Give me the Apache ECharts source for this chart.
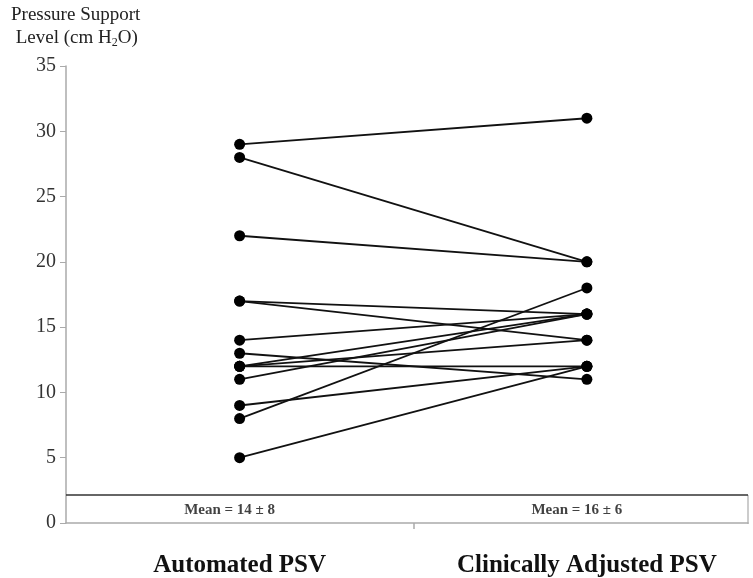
<!DOCTYPE html>
<html><head><meta charset="utf-8">
<script src="https://cdn.jsdelivr.net/npm/echarts@6/dist/echarts.min.js"></script>
<style>html,body{margin:0;padding:0;background:#fff}#c{width:753px;height:578px}</style>
</head><body><div id="c"></div>
<script>
var categories = ['Automated PSV', 'Clinically Adjusted PSV'];
var automated = [29, 28, 22, 17, 17, 14, 13, 12, 12, 12, 11, 9, 8, 5];
var clinical  = [31, 20, 20, 16, 14, 16, 11, 16, 14, 12, 16, 12, 18, 12];
var meanLabels = ['Mean = 14 ± 8', 'Mean = 16 ± 6'];
var yTicks = [0, 5, 10, 15, 20, 25, 30, 35];
var serif = '"Liberation Serif", "Times New Roman", serif';

var series = automated.map(function (a, i) {
  return {
    type: 'line', data: [[0, a], [1, clinical[i]]], symbol: 'circle', symbolSize: 11,
    itemStyle: { color: '#000' }, lineStyle: { color: '#111', width: 1.8 },
    animation: false, silent: true
  };
});
series.push({
  type: 'scatter', symbolSize: 0, data: [[0, 1], [1, 1]], animation: false, silent: true,
  label: {
    show: true, position: 'inside', offset: [-10, 0],
    formatter: function (p) { return meanLabels[p.dataIndex]; },
    fontFamily: serif, fontWeight: 'bold', fontSize: 15, color: '#111'
  },
  markLine: {
    symbol: 'none', silent: true, animation: false, label: { show: false },
    lineStyle: { color: '#333', width: 1.5, type: 'solid' },
    data: [{ yAxis: 2.2 }]
  }
});

var chart = echarts.init(document.getElementById('c'), null, { renderer: 'canvas' });
chart.setOption({
  backgroundColor: '#fff',
  grid: { left: 66, right: 5, top: 66, bottom: 54 },
  xAxis: {
    type: 'value', min: -0.5, max: 1.464,
    splitLine: { show: false },
    axisLine: { onZero: false, lineStyle: { color: '#aaa', width: 1.5 } },
    axisTick: { show: true, length: 6, customValues: [0.5], lineStyle: { color: '#aaa', width: 1.5 } },
    axisLabel: {
      customValues: [0, 1],
      formatter: function (v) { return categories[Math.round(v)] || ''; },
      fontFamily: serif, fontWeight: 'bold', fontSize: 25, color: '#111', margin: 30
    }
  },
  yAxis: {
    type: 'value', min: 0, max: 35, interval: 5,
    axisLine: { show: true, onZero: false, lineStyle: { color: '#aaa', width: 1.5 } },
    axisTick: { show: true, length: 6, lineStyle: { color: '#aaa' } },
    splitLine: { show: false },
    axisLabel: {
      fontFamily: serif, fontSize: 20, color: '#333', margin: 10,
      formatter: function (v) { return yTicks.indexOf(v) >= 0 ? String(v) : ''; }
    }
  },
  graphic: [{
    type: 'text', left: 11, top: 4,
    style: {
      text: 'Pressure Support\n {n|Level (cm H}{s|2}{n|O)}',
      fontFamily: serif, fontSize: 19, fill: '#222', lineHeight: 23,
      rich: {
        n: { fontFamily: serif, fontSize: 19, fill: '#222' },
        s: { fontFamily: serif, fontSize: 12, fill: '#222', padding: [9, 0, 0, 0] }
      }
    }
  }, {
    type: 'line', shape: { x1: 748, y1: 495, x2: 748, y2: 524 },
    style: { stroke: '#bbb', lineWidth: 1.5 }, silent: true
  }],
  series: series
});
</script></body></html>
